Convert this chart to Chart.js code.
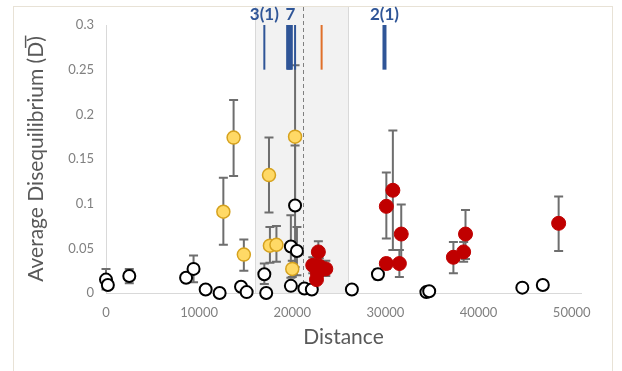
<!DOCTYPE html>
<html><head><meta charset="utf-8">
<script src="https://cdn.jsdelivr.net/npm/chart.js@4"></script>
<style>
html,body{margin:0;padding:0;background:#fff;}
#wrap{position:relative;width:622px;height:371px;overflow:hidden;}
#frame{position:absolute;left:13px;top:6px;width:600px;height:400px;border:1px solid #e8e2d6;box-sizing:border-box;}
canvas{position:absolute;left:0;top:0;}
</style></head><body>
<div id="wrap"><div id="frame"></div><canvas id="c" width="622" height="371"></canvas></div>
<script>
// ---- data ----
const xTicks = [0, 10000, 20000, 30000, 40000, 50000];
const yTicks = [0, 0.05, 0.1, 0.15, 0.2, 0.25, 0.3];

const openX  = [0, 200, 2500, 8600, 9400, 10700, 12200, 14500, 15100, 17000, 17200, 19850, 20300, 20500, 19850, 21300, 22100, 26400, 29200, 34400, 34700, 44700, 46900];
const openY  = [0.015, 0.009, 0.019, 0.017, 0.027, 0.004, 0.000, 0.007, 0.001, 0.021, 0.000, 0.052, 0.098, 0.047, 0.008, 0.005, 0.004, 0.004, 0.021, 0.001, 0.002, 0.006, 0.009];
const openLo = [0.004, null, 0.011, null, 0.012, null, null, null, null, 0.010, null, 0.017, 0.029, 0.020, null, null, null, null, 0.015, null, null, null, null];
const openHi = [0.027, null, 0.027, null, 0.042, null, null, null, null, 0.033, null, 0.087, 0.165, 0.074, null, null, null, null, 0.027, null, null, null, null];

const yellowX  = [12600, 13700, 14800, 17500, 17600, 18300, 20300, 20000];
const yellowY  = [0.091, 0.174, 0.043, 0.132, 0.053, 0.054, 0.175, 0.027];
const yellowLo = [0.054, 0.131, 0.025, 0.090, 0.034, 0.035, 0.095, 0.018];
const yellowHi = [0.129, 0.216, 0.060, 0.174, 0.074, 0.075, 0.255, 0.036];

const redX  = [22800, 22200, 22900, 23600, 22700, 22600, 30100, 30800, 31700, 30100, 31500, 37300, 38400, 38600, 48600];
const redY  = [0.046, 0.031, 0.030, 0.027, 0.022, 0.015, 0.097, 0.115, 0.066, 0.033, 0.033, 0.040, 0.046, 0.066, 0.078];
const redLo = [0.034, 0.022, 0.021, 0.019, null, null, 0.061, 0.048, 0.033, 0.027, 0.018, 0.022, 0.035, 0.038, 0.047];
const redHi = [0.058, 0.040, 0.039, 0.036, null, null, 0.135, 0.182, 0.099, 0.039, 0.048, 0.057, 0.057, 0.093, 0.108];

const markBlueThinX    = [17000];
const markBlueClusterX = [19450, 19550, 19650, 19750, 19850, 19950, 20300];
const markOrangeX      = [23150];
const markBlueRightX   = [29900];
const markYRange       = [0.25, 0.3];
const markLabelText    = ['3(1)', '7', '2(1)'];
const markLabelX       = [17000, 19800, 29900];

const shadeRange = [16000, 26000];
const dashedX = 21200;

// ---- build ----
const pts = (xs, ys) => xs.map((x, i) => ({x: x, y: ys[i]}));
const markLine = (x, color, w) => ({
  type: 'line', data: [{x: x, y: markYRange[0]}, {x: x, y: markYRange[1]}],
  borderColor: color, borderWidth: w, pointRadius: 0, showLine: true, order: 10, clip: false
});

const datasets = [
  {label: 'red', data: pts(redX, redY), pointRadius: 7, pointBackgroundColor: '#c00000', pointBorderColor: '#c00000', pointBorderWidth: 1, showLine: false, order: 1, clip: false, errLo: redLo, errHi: redHi},
  {label: 'yellow', data: pts(yellowX, yellowY), pointRadius: 6.5, pointBackgroundColor: '#ffd966', pointBorderColor: '#d6a21e', pointBorderWidth: 1.5, showLine: false, order: 2, clip: false, errLo: yellowLo, errHi: yellowHi},
  {label: 'open', data: pts(openX, openY), pointRadius: 6, pointBackgroundColor: '#ffffff', pointBorderColor: '#000000', pointBorderWidth: 2, showLine: false, order: 3, clip: false, errLo: openLo, errHi: openHi}
];
markBlueThinX.forEach(x => datasets.push(markLine(x, '#2f5597', 2)));
markBlueClusterX.forEach(x => datasets.push(markLine(x, '#2f5597', 2)));
markOrangeX.forEach(x => datasets.push(markLine(x, '#e0702a', 2)));
markBlueRightX.forEach(x => datasets.push(markLine(x, '#2f5597', 4)));

const deco = {
  id: 'deco',
  beforeDraw(chart) {
    const {ctx, scales: {x, y}, chartArea} = chart;
    const x0 = x.getPixelForValue(shadeRange[0]), x1 = x.getPixelForValue(shadeRange[1]);
    const top = chartArea.top - 18, bot = y.getPixelForValue(0);
    ctx.save();
    ctx.fillStyle = '#f2f2f2';
    ctx.fillRect(x0, top, x1 - x0, bot - top);
    ctx.strokeStyle = '#d9d9d9'; ctx.lineWidth = 1;
    ctx.beginPath();
    ctx.moveTo(Math.round(x0) + 0.5, top); ctx.lineTo(Math.round(x0) + 0.5, bot);
    ctx.moveTo(Math.round(x1) + 0.5, top); ctx.lineTo(Math.round(x1) + 0.5, bot);
    ctx.stroke();
    const xd = Math.round(x.getPixelForValue(dashedX)) + 0.5;
    ctx.strokeStyle = '#808080'; ctx.setLineDash([4, 3]);
    ctx.beginPath(); ctx.moveTo(xd, top); ctx.lineTo(xd, bot); ctx.stroke();
    ctx.restore();
  },
  beforeDatasetsDraw(chart) {
    const {ctx, scales: {x, y}} = chart;
    ctx.save();
    ctx.strokeStyle = '#6e6e6e'; ctx.lineWidth = 2;
    chart.data.datasets.forEach(ds => {
      if (!ds.errLo) return;
      ds.data.forEach((p, i) => {
        if (ds.errLo[i] == null) return;
        const px = x.getPixelForValue(p.x);
        const yl = y.getPixelForValue(ds.errLo[i]), yh = y.getPixelForValue(ds.errHi[i]);
        ctx.beginPath();
        ctx.moveTo(px, yl); ctx.lineTo(px, yh);
        ctx.moveTo(px - 4.5, yl); ctx.lineTo(px + 4.5, yl);
        ctx.moveTo(px - 4.5, yh); ctx.lineTo(px + 4.5, yh);
        ctx.stroke();
      });
    });
    ctx.restore();
  },
  afterDatasetsDraw(chart) {
    const {ctx, scales: {x}, chartArea} = chart;
    ctx.save();
    ctx.fillStyle = '#2f5597';
    ctx.font = 'bold 17px Lato';
    ctx.textAlign = 'center'; ctx.textBaseline = 'middle';
    markLabelText.forEach((t, i) => ctx.fillText(t, x.getPixelForValue(markLabelX[i]), chartArea.top - 10));
    ctx.restore();
  }
};

new Chart(document.getElementById('c'), {
  type: 'scatter',
  data: {datasets: datasets},
  plugins: [deco],
  options: {
    responsive: false, animation: false, devicePixelRatio: 1,
    layout: {padding: {left: 0, right: 41, top: 25, bottom: 0}},
    plugins: {legend: {display: false}, tooltip: {enabled: false}},
    scales: {
      x: {
        type: 'linear', min: 0, max: 51000,
        afterFit: s => { s.height = 78; },
        afterBuildTicks: s => { s.ticks = xTicks.map(v => ({value: v})); },
        grid: {display: false, drawTicks: false},
        border: {display: true, color: '#d9d9d9', width: 1},
        ticks: {padding: 12, color: '#808080', font: {family: 'Lato', size: 13}, maxRotation: 0, autoSkip: false, callback: v => String(v)},
        title: {display: true, text: 'Distance', color: '#595959', font: {family: 'Lato', size: 21}, padding: {top: 4, bottom: 21}}
      },
      y: {
        type: 'linear', min: 0, max: 0.3,
        afterFit: s => { s.width = 106; },
        afterBuildTicks: s => { s.ticks = yTicks.map(v => ({value: v})); },
        grid: {display: false, drawTicks: false},
        border: {display: true, color: '#d9d9d9', width: 1},
        ticks: {padding: 12, color: '#808080', font: {family: 'Lato', size: 13}, callback: v => String(+v.toFixed(2))},
        title: {display: true, text: 'Average Disequilibrium (D\u0305)', color: '#595959', font: {family: 'Lato', size: 21}, padding: {top: 24, bottom: 4}}
      }
    }
  }
});
</script>
</body></html>
